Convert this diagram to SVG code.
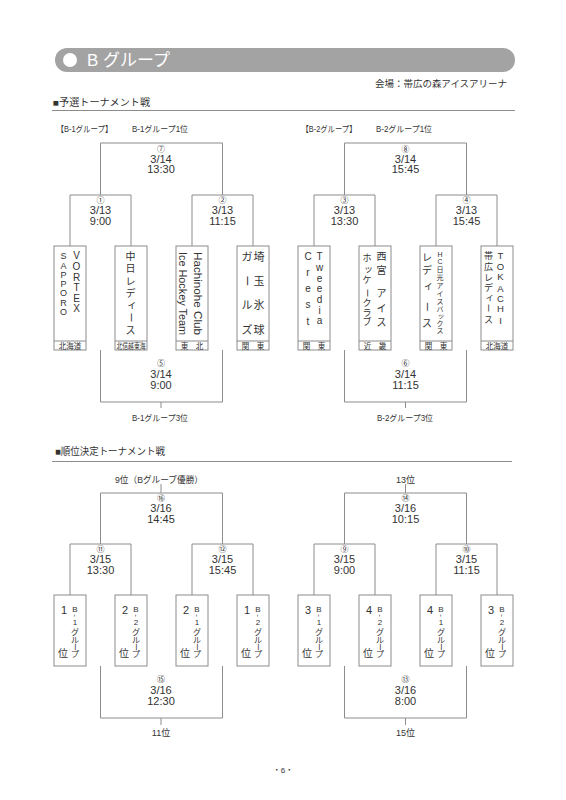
<svg xmlns="http://www.w3.org/2000/svg" width="566" height="800" viewBox="0 0 566 800">
<style>
.t{font-family:"Liberation Sans","Noto Sans CJK JP",sans-serif;fill:#333}
.ln{stroke:#8c8c8c;stroke-width:1;fill:none}
.bx{stroke:#8c8c8c;stroke-width:1;fill:#fff}
.m{font-size:11px;text-anchor:middle}
.c{font-size:8px;text-anchor:middle}
.s{font-size:8.5px}
.mid{text-anchor:middle}
.v9{font-size:9px;text-anchor:middle}
.v95{font-size:9.5px;text-anchor:middle}
.v10{font-size:10px;text-anchor:middle}
.v11{font-size:11px;text-anchor:middle}
.v8{font-size:8px;text-anchor:middle}
.v7{font-size:7px;text-anchor:middle}
.rg{font-size:7.5px;text-anchor:middle}
</style>
<rect width="566" height="800" fill="#fff"/>
<g id="header">
<rect x="55" y="48" width="460" height="24" rx="12" fill="#a3a3a3"/>
<circle cx="70" cy="60" r="7" fill="#fff"/>
<text x="87" y="66" font-size="17" fill="#fff" font-family="Liberation Sans,'Noto Sans CJK JP',sans-serif" textLength="83" lengthAdjust="spacingAndGlyphs">B グループ</text>
<text class="t" x="507" y="87" font-size="9.5" text-anchor="end" textLength="132" lengthAdjust="spacingAndGlyphs">会場：帯広の森アイスアリーナ</text>
<text class="t" x="53" y="106" font-size="9.7" textLength="97" lengthAdjust="spacingAndGlyphs">■予選トーナメント戦</text>
<line class="ln" x1="52" y1="110.5" x2="515" y2="110.5"/>
<text class="t" x="55" y="455" font-size="10" textLength="110" lengthAdjust="spacingAndGlyphs">■順位決定トーナメント戦</text>
<line class="ln" x1="52" y1="461.5" x2="512" y2="461.5"/>
<text class="t" x="283" y="773" font-size="8" text-anchor="middle">・6・</text>
</g>
<g id="labels">
<text class="t s" x="56.5" y="131.5" textLength="56" lengthAdjust="spacingAndGlyphs">【B-1グループ】</text>
<text class="t s" x="132" y="131.5" textLength="56" lengthAdjust="spacingAndGlyphs">B-1グループ1位</text>
<text class="t s" x="301.5" y="131.5" textLength="55" lengthAdjust="spacingAndGlyphs">【B-2グループ】</text>
<text class="t s" x="376" y="131.5" textLength="56" lengthAdjust="spacingAndGlyphs">B-2グループ1位</text>
<text class="t s" x="132" y="421" textLength="56" lengthAdjust="spacingAndGlyphs">B-1グループ3位</text>
<text class="t s" x="377" y="421" textLength="56" lengthAdjust="spacingAndGlyphs">B-2グループ3位</text>
<text class="t" x="115" y="482.5" font-size="9" textLength="88" lengthAdjust="spacingAndGlyphs">9位（Bグループ優勝）</text>
<text class="t mid" x="405.5" y="482.5" font-size="9">13位</text>
<text class="t mid" x="161" y="736" font-size="9">11位</text>
<text class="t mid" x="405.5" y="736" font-size="9">15位</text>
</g>
<g id="connectors">
<path class="ln" d="M100.5 195V143H222.5V195M70 246V195H131V246M192 246V195H253V246M100.5 350V402H222.5V350M161 402V408"/>
<path class="ln" d="M344.5 195V143H466.5V195M314 246V195H375V246M436 246V195H497V246M344.5 350V402H466.5V350M405.5 402V408"/>
<path class="ln" d="M100.5 544V493H222.5V544M161 484V493M70 595V544H131V595M192 595V544H253V595M100.5 666V718H222.5V666M161 718V725"/>
<path class="ln" d="M344.5 544V493H466.5V544M405.5 484V493M314 595V544H375V595M436 595V544H497V595M344.5 666V718H466.5V666M405.5 718V725"/>
</g>
<g id="m7" class="t"><text class="c" x="161" y="151.5">⑦</text><text class="m" x="161" y="162.5">3/14</text><text class="m" x="161" y="173">13:30</text></g>
<g id="m1" class="t"><text class="c" x="100.5" y="203">①</text><text class="m" x="100.5" y="214">3/13</text><text class="m" x="100.5" y="224.5">9:00</text></g>
<g id="m2" class="t"><text class="c" x="222.5" y="203">②</text><text class="m" x="222.5" y="214">3/13</text><text class="m" x="222.5" y="224.5">11:15</text></g>
<g id="m5" class="t"><text class="c" x="161" y="366">⑤</text><text class="m" x="161" y="378">3/14</text><text class="m" x="161" y="388.5">9:00</text></g>
<g id="m8" class="t"><text class="c" x="405.5" y="151.5">⑧</text><text class="m" x="405.5" y="162.5">3/14</text><text class="m" x="405.5" y="173">15:45</text></g>
<g id="m3" class="t"><text class="c" x="344.5" y="203">③</text><text class="m" x="344.5" y="214">3/13</text><text class="m" x="344.5" y="224.5">13:30</text></g>
<g id="m4" class="t"><text class="c" x="466.5" y="203">④</text><text class="m" x="466.5" y="214">3/13</text><text class="m" x="466.5" y="224.5">15:45</text></g>
<g id="m6" class="t"><text class="c" x="405.5" y="366">⑥</text><text class="m" x="405.5" y="378">3/14</text><text class="m" x="405.5" y="388.5">11:15</text></g>
<g id="m16" class="t"><text class="c" x="161" y="501">⑯</text><text class="m" x="161" y="512">3/16</text><text class="m" x="161" y="523">14:45</text></g>
<g id="m11" class="t"><text class="c" x="100.5" y="551.5">⑪</text><text class="m" x="100.5" y="563">3/15</text><text class="m" x="100.5" y="573.5">13:30</text></g>
<g id="m12" class="t"><text class="c" x="222.5" y="551.5">⑫</text><text class="m" x="222.5" y="563">3/15</text><text class="m" x="222.5" y="573.5">15:45</text></g>
<g id="m15" class="t"><text class="c" x="161" y="682">⑮</text><text class="m" x="161" y="694">3/16</text><text class="m" x="161" y="704.5">12:30</text></g>
<g id="m14" class="t"><text class="c" x="405.5" y="501">⑭</text><text class="m" x="405.5" y="512">3/16</text><text class="m" x="405.5" y="523">10:15</text></g>
<g id="m9" class="t"><text class="c" x="344.5" y="551.5">⑨</text><text class="m" x="344.5" y="563">3/15</text><text class="m" x="344.5" y="573.5">9:00</text></g>
<g id="m10" class="t"><text class="c" x="466.5" y="551.5">⑩</text><text class="m" x="466.5" y="563">3/15</text><text class="m" x="466.5" y="573.5">11:15</text></g>
<g id="m13" class="t"><text class="c" x="405.5" y="682">⑬</text><text class="m" x="405.5" y="694">3/16</text><text class="m" x="405.5" y="704.5">8:00</text></g>

<g id="team-sapporo" class="t">
<rect class="bx" x="54" y="246" width="32" height="104"/><line class="ln" x1="54" y1="341" x2="86" y2="341"/>
<g class="v9"><text x="63.5" y="259.2">S</text><text x="63.5" y="268.5">A</text><text x="63.5" y="277.8">P</text><text x="63.5" y="287.1">P</text><text x="63.5" y="296.4">O</text><text x="63.5" y="305.7">R</text><text x="63.5" y="315">O</text></g>
<g class="v10"><text x="76.5" y="259.4">V</text><text x="76.5" y="270">O</text><text x="76.5" y="280.6">R</text><text x="76.5" y="291.2">T</text><text x="76.5" y="301.8">E</text><text x="76.5" y="312.4">X</text></g>
<text class="rg" x="70" y="349">北海道</text>
</g>
<g id="team-chunichi" class="t">
<rect class="bx" x="115" y="246" width="32" height="104"/><line class="ln" x1="115" y1="341" x2="147" y2="341"/>
<g class="v10"><text x="130.5" y="259.8">中</text><text x="130.5" y="271.8">日</text><text x="130.5" y="284.8">レ</text><text x="130.5" y="296.8">デ</text><text x="132" y="307.5">ィ</text><text x="130.5" y="321.3" transform="rotate(90 130.5 317.5)">ー</text><text x="130.5" y="333.8">ス</text></g>
<text class="rg" x="131" y="349" textLength="29" lengthAdjust="spacingAndGlyphs">北信越東海</text>
</g>
<g id="team-hachinohe" class="t">
<rect class="bx" x="176" y="246" width="32" height="104"/><line class="ln" x1="176" y1="341" x2="208" y2="341"/>
<text font-size="10.5" transform="translate(193.5 252) rotate(90)" textLength="83" lengthAdjust="spacingAndGlyphs">Hachinohe Club</text>
<text font-size="10.5" transform="translate(178.5 252) rotate(90)" textLength="83" lengthAdjust="spacingAndGlyphs">Ice Hockey Team</text>
<text class="rg" x="192" y="349">東　北</text>
</g>
<g id="team-saitama" class="t">
<rect class="bx" x="237" y="246" width="32" height="104"/><line class="ln" x1="237" y1="341" x2="269" y2="341"/>
<g class="v11"><text x="259" y="261.2">埼</text><text x="259" y="285.2">玉</text><text x="259" y="309.2">氷</text><text x="259" y="334.2">球</text>
<text x="247" y="261.2">ガ</text><text x="247" y="285.2" transform="rotate(90 247 281)">ー</text><text x="247" y="309.2">ル</text><text x="247" y="334.2">ズ</text></g>
<text class="rg" x="253" y="349">関　東</text>
</g>
<g id="team-tweedia" class="t">
<rect class="bx" x="298" y="246" width="32" height="104"/><line class="ln" x1="298" y1="341" x2="330" y2="341"/>
<g class="v10"><text x="308" y="260.3">C</text><text x="308" y="276.3">r</text><text x="308" y="292.3">e</text><text x="308" y="308.3">s</text><text x="308" y="324.5">t</text>
<text x="319.5" y="260.3">T</text><text x="319.5" y="271">w</text><text x="319.5" y="281.6">e</text><text x="319.5" y="292.3">e</text><text x="319.5" y="303">d</text><text x="319.5" y="313.6">i</text><text x="319.5" y="324.3">a</text></g>
<text class="rg" x="314" y="349">関　東</text>
</g>
<g id="team-nishinomiya" class="t">
<rect class="bx" x="359" y="246" width="32" height="104"/><line class="ln" x1="359" y1="341" x2="391" y2="341"/>
<g class="v10"><text x="381.5" y="259.8">西</text><text x="381.5" y="273.8">宮</text><text x="381.5" y="296.8">ア</text><text x="381.5" y="311.8">イ</text><text x="381.5" y="325.8">ス</text></g>
<g class="v9"><text x="367" y="261.2">ホ</text><text x="368.5" y="271.5">ッ</text><text x="367" y="283">ケ</text><text x="367" y="296.4" transform="rotate(90 367 293)">ー</text><text x="367" y="305.8">ク</text><text x="367" y="315.6">ラ</text><text x="367" y="325.4">ブ</text></g>
<text class="rg" x="375" y="349">近　畿</text>
</g>
<g id="team-nikko" class="t">
<rect class="bx" x="420" y="246" width="32" height="104"/><line class="ln" x1="420" y1="341" x2="452" y2="341"/>
<g class="v7"><text x="440" y="256.5">H</text><text x="440" y="264">C</text><text x="440" y="271.5">日</text><text x="440" y="279.5">光</text><text x="440" y="287.5">ア</text><text x="440" y="295.5">イ</text><text x="440" y="303.5">ス</text><text x="440" y="311.5">バ</text><text x="441" y="318">ッ</text><text x="440" y="325.5">ク</text><text x="440" y="333">ス</text></g>
<g class="v10"><text x="427" y="260.5">レ</text><text x="427" y="273.8">デ</text><text x="428.5" y="289">ィ</text><text x="427" y="310.5" transform="rotate(90 427 306.7)">ー</text><text x="427" y="327">ス</text></g>
<text class="rg" x="436" y="349">関　東</text>
</g>
<g id="team-tokachi" class="t">
<rect class="bx" x="481" y="246" width="32" height="104"/><line class="ln" x1="481" y1="341" x2="513" y2="341"/>
<g class="v9"><text x="488.5" y="259">帯</text><text x="488.5" y="270">広</text><text x="488.5" y="280.5">レ</text><text x="488.5" y="291">デ</text><text x="490" y="299.5">ィ</text><text x="488.5" y="311.3" transform="rotate(90 488.5 308)">ー</text><text x="488.5" y="323.3">ス</text></g>
<g class="v95"><text x="500.5" y="259.3">T</text><text x="500.5" y="270.3">O</text><text x="500.5" y="280.3">K</text><text x="500.5" y="291.6">A</text><text x="500.5" y="301.6">C</text><text x="500.5" y="311.6">H</text><text x="500.5" y="323.6">I</text></g>
<text class="rg" x="497" y="349">北海道</text>
</g>

<g id="slot-l1" class="t">
<rect class="bx" x="54" y="595" width="32" height="71"/>
<text class="v11" x="64" y="614">1</text><text class="v10" x="63" y="656.5">位</text>
<g class="v8"><text x="75" y="612">B</text><text x="75" y="618" transform="rotate(90 75 615.5)">-</text><text x="75" y="625">1</text><text x="75" y="635">グ</text><text x="75" y="643">ル</text><text x="75" y="650" transform="rotate(90 75 647)">ー</text><text x="75" y="656.5">プ</text></g>
</g>
<g id="slot-l2" class="t">
<rect class="bx" x="115" y="595" width="32" height="71"/>
<text class="v11" x="125" y="614">2</text><text class="v10" x="124" y="656.5">位</text>
<g class="v8"><text x="136" y="612">B</text><text x="136" y="618" transform="rotate(90 136 615.5)">-</text><text x="136" y="625">2</text><text x="136" y="635">グ</text><text x="136" y="643">ル</text><text x="136" y="650" transform="rotate(90 136 647)">ー</text><text x="136" y="656.5">プ</text></g>
</g>
<g id="slot-l3" class="t">
<rect class="bx" x="176" y="595" width="32" height="71"/>
<text class="v11" x="186" y="614">2</text><text class="v10" x="185" y="656.5">位</text>
<g class="v8"><text x="197" y="612">B</text><text x="197" y="618" transform="rotate(90 197 615.5)">-</text><text x="197" y="625">1</text><text x="197" y="635">グ</text><text x="197" y="643">ル</text><text x="197" y="650" transform="rotate(90 197 647)">ー</text><text x="197" y="656.5">プ</text></g>
</g>
<g id="slot-l4" class="t">
<rect class="bx" x="237" y="595" width="32" height="71"/>
<text class="v11" x="247" y="614">1</text><text class="v10" x="246" y="656.5">位</text>
<g class="v8"><text x="258" y="612">B</text><text x="258" y="618" transform="rotate(90 258 615.5)">-</text><text x="258" y="625">2</text><text x="258" y="635">グ</text><text x="258" y="643">ル</text><text x="258" y="650" transform="rotate(90 258 647)">ー</text><text x="258" y="656.5">プ</text></g>
</g>
<g id="slot-r1" class="t">
<rect class="bx" x="298" y="595" width="32" height="71"/>
<text class="v11" x="308" y="614">3</text><text class="v10" x="307" y="656.5">位</text>
<g class="v8"><text x="319" y="612">B</text><text x="319" y="618" transform="rotate(90 319 615.5)">-</text><text x="319" y="625">1</text><text x="319" y="635">グ</text><text x="319" y="643">ル</text><text x="319" y="650" transform="rotate(90 319 647)">ー</text><text x="319" y="656.5">プ</text></g>
</g>
<g id="slot-r2" class="t">
<rect class="bx" x="359" y="595" width="32" height="71"/>
<text class="v11" x="369" y="614">4</text><text class="v10" x="368" y="656.5">位</text>
<g class="v8"><text x="380" y="612">B</text><text x="380" y="618" transform="rotate(90 380 615.5)">-</text><text x="380" y="625">2</text><text x="380" y="635">グ</text><text x="380" y="643">ル</text><text x="380" y="650" transform="rotate(90 380 647)">ー</text><text x="380" y="656.5">プ</text></g>
</g>
<g id="slot-r3" class="t">
<rect class="bx" x="420" y="595" width="32" height="71"/>
<text class="v11" x="430" y="614">4</text><text class="v10" x="429" y="656.5">位</text>
<g class="v8"><text x="441" y="612">B</text><text x="441" y="618" transform="rotate(90 441 615.5)">-</text><text x="441" y="625">1</text><text x="441" y="635">グ</text><text x="441" y="643">ル</text><text x="441" y="650" transform="rotate(90 441 647)">ー</text><text x="441" y="656.5">プ</text></g>
</g>
<g id="slot-r4" class="t">
<rect class="bx" x="481" y="595" width="32" height="71"/>
<text class="v11" x="491" y="614">3</text><text class="v10" x="490" y="656.5">位</text>
<g class="v8"><text x="502" y="612">B</text><text x="502" y="618" transform="rotate(90 502 615.5)">-</text><text x="502" y="625">2</text><text x="502" y="635">グ</text><text x="502" y="643">ル</text><text x="502" y="650" transform="rotate(90 502 647)">ー</text><text x="502" y="656.5">プ</text></g>
</g>
</svg>
